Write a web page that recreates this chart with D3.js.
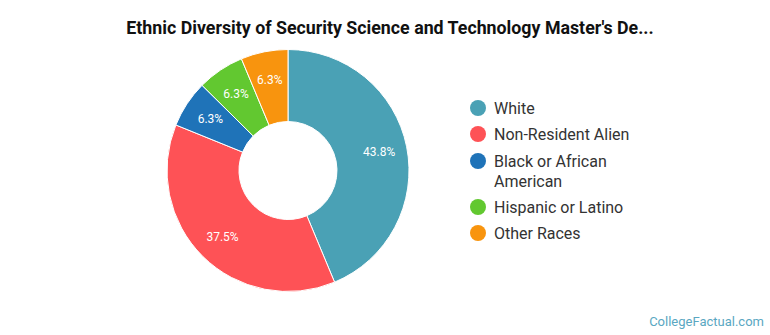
<!DOCTYPE html>
<html lang="en">
<head>
    <meta charset="UTF-8">
    <title>Ethnic Diversity Donut</title>
    <script src="https://d3js.org/d3.v7.min.js"></script>
    <style>
        body { margin: 0; background: #fff; }
        svg { display: block; font-family: Roboto, "Noto Sans", sans-serif; }
    </style>
</head>
<body>
    <div id="chart"></div>

    <script>
        const width = 770;
        const height = 335;

        // Share of degrees by group (%)
        const categories = ["White", "Non-Resident Alien", "Black or African American", "Hispanic or Latino", "Other Races"];
        const shares = [43.8, 37.5, 6.3, 6.3, 6.3];
        const sliceColors = ["#4aa1b5", "#fe5256", "#1f73b8", "#62c830", "#f8940e"];

        // Legend text, long names broken over two lines
        const legendLines = [["White"], ["Non-Resident Alien"], ["Black or African", "American"], ["Hispanic or Latino"], ["Other Races"]];

        const data = categories.map((c, i) => ({ name: c, value: shares[i], color: sliceColors[i] }));

        const svg = d3.select("#chart")
            .append("svg")
            .attr("width", width)
            .attr("height", height);

        // Title
        svg.append("text")
            .attr("x", 390)
            .attr("y", 34)
            .attr("text-anchor", "middle")
            .style("font-size", "17.8px")
            .style("font-weight", "bold")
            .style("fill", "#111")
            .text("Ethnic Diversity of Security Science and Technology Master's De...");

        // Donut
        const cx = 288, cy = 170.5;
        const outerR = 121, innerR = 49, labelR = 93;

        const pie = d3.pie().value(d => d.value).sort(null);
        const arc = d3.arc().innerRadius(innerR).outerRadius(outerR);
        const labelArc = d3.arc().innerRadius(labelR).outerRadius(labelR);

        const g = svg.append("g").attr("transform", `translate(${cx},${cy})`);
        const arcs = pie(data);

        g.selectAll("path")
            .data(arcs)
            .join("path")
            .attr("d", arc)
            .attr("fill", d => d.data.color)
            .attr("stroke", "#fff")
            .attr("stroke-width", 1);

        g.selectAll("text.pct")
            .data(arcs)
            .join("text")
            .attr("class", "pct")
            .attr("transform", d => `translate(${labelArc.centroid(d)})`)
            .attr("text-anchor", "middle")
            .attr("dy", "0.35em")
            .style("font-size", "12px")
            .style("fill", "#fff")
            .text(d => d.data.value.toFixed(1) + "%");

        // Legend
        const legendX = 478;
        const legendY = [108, 134, 161, 207, 233];
        const legend = svg.append("g");

        data.forEach((d, i) => {
            const row = legend.append("g").attr("transform", `translate(${legendX},${legendY[i]})`);
            row.append("circle")
                .attr("r", 8)
                .attr("fill", d.color);
            const t = row.append("text")
                .attr("x", 16)
                .attr("y", 0)
                .style("font-size", "16px")
                .style("fill", "#333");
            legendLines[i].forEach((line, j) => {
                t.append("tspan")
                    .attr("x", 16)
                    .attr("dy", j === 0 ? "0.35em" : "20px")
                    .text(line);
            });
        });

        // Source mark
        svg.append("text")
            .attr("x", 764)
            .attr("y", 326)
            .attr("text-anchor", "end")
            .style("font-size", "13px")
            .style("fill", "#5aa7c2")
            .text("CollegeFactual.com");
    </script>
</body>
</html>
